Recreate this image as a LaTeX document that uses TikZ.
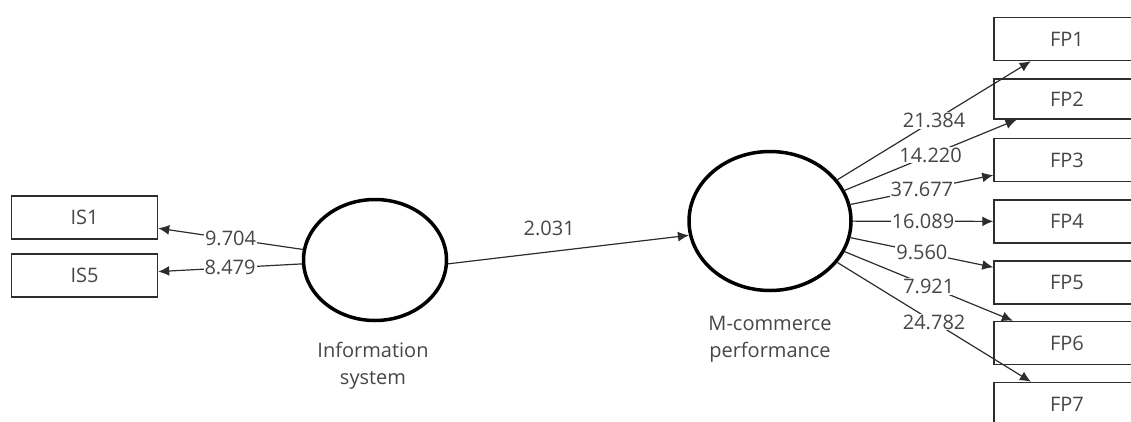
\documentclass[tikz,border=0pt]{standalone}
\usepackage{fontspec}
\setmainfont{Open Sans}
\usetikzlibrary{shapes.geometric,arrows.meta}
\definecolor{txt}{RGB}{70,70,70}
\definecolor{ln}{RGB}{45,45,45}
\begin{document}
\begin{tikzpicture}[x=1pt,y=-1pt,
 every node/.style={font=\fontsize{20}{27}\selectfont, text=txt},
 ind/.style={draw=ln, line width=1.5pt, minimum width=146pt, minimum height=43pt, inner sep=0pt},
 lat/.style={ellipse, draw=black, line width=3.5pt, inner sep=0pt},
 conn/.style={draw=ln, line width=1.2pt, -{Latex[length=11pt,width=10pt]}},
 lbl/.style={fill=white, inner sep=1pt, midway}]
\useasboundingbox (0,0) rectangle (1131,421);
\clip (0,0) rectangle (1131,421);
% indicator boxes
\node[ind] (is1) at (84.5,217.5) {IS1};
\node[ind] (is5) at (84.5,275.5) {IS5};
\node[ind] (fp1) at (1067,39) {FP1};
\node[ind, minimum height=40pt] (fp2) at (1067,99) {FP2};
\node[ind] (fp3) at (1067,160) {FP3};
\node[ind] (fp4) at (1067,221.5) {FP4};
\node[ind] (fp5) at (1067,282.5) {FP5};
\node[ind] (fp6) at (1067,343) {FP6};
\node[ind] (fp7) at (1067,404) {FP7};
% latent variables
\node[lat, minimum width=143pt, minimum height=121pt] (is) at (375,260) {};
\node[lat, minimum width=162pt, minimum height=139pt] (mc) at (770,221) {};
\node[align=center] (islab) at (373,366) {Information\\system};
\node[align=center] (mclab) at (770,339.5) {M-commerce\\performance};
% connectors
\draw[conn] (is) -- (is1) node[lbl] {9.704};
\draw[conn] (is) -- (is5) node[lbl] {8.479};
\draw[conn] (is.-3) -- (mc.190) node[pos=0.42, above=12pt] {2.031};
\draw[conn] (mc) -- (fp1) node[lbl] {21.384};
\draw[conn] (mc) -- (fp2) node[lbl] {14.220};
\draw[conn] (mc) -- (fp3) node[lbl] {37.677};
\draw[conn] (mc) -- (fp4) node[lbl] {16.089};
\draw[conn] (mc) -- (fp5) node[lbl] {9.560};
\draw[conn] (mc) -- (fp6) node[lbl] {7.921};
\draw[conn] (mc) -- (fp7) node[lbl] {24.782};
\end{tikzpicture}
\end{document}
